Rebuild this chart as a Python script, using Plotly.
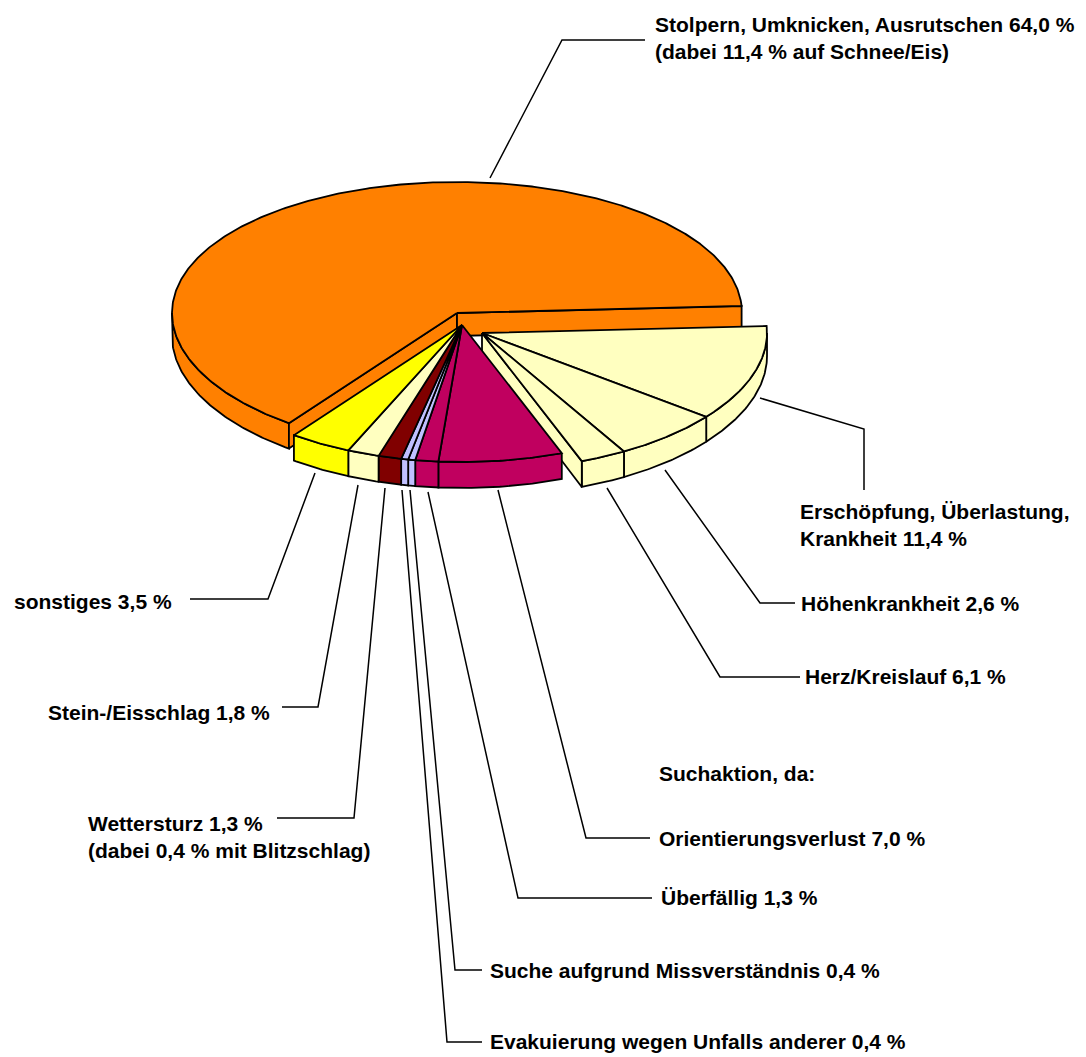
import numpy as np
import plotly.graph_objects as go

# ---------------- data (clockwise order, starting just above 3 o'clock) -------------
categories = [
    "Erschöpfung, Überlastung, Krankheit",
    "Herz/Kreislauf",
    "Höhenkrankheit",
    "Orientierungsverlust",
    "Überfällig",
    "Suche aufgrund Missverständnis",
    "Evakuierung wegen Unfalls anderer",
    "Wettersturz",
    "Stein-/Eisschlag",
    "sonstiges",
    "Stolpern, Umknicken, Ausrutschen",
]
values = [11.4, 6.1, 2.6, 7.0, 1.3, 0.4, 0.4, 1.3, 1.8, 3.5, 64.0]

label_texts = [
    "Stolpern, Umknicken, Ausrutschen 64,0 %<br>(dabei 11,4 % auf Schnee/Eis)",
    "Erschöpfung, Überlastung,<br>Krankheit 11,4 %",
    "Höhenkrankheit 2,6 %",
    "Herz/Kreislauf 6,1 %",
    "Suchaktion, da:",
    "Orientierungsverlust 7,0 %",
    "Überfällig 1,3 %",
    "Suche aufgrund Missverständnis 0,4 %",
    "Evakuierung wegen Unfalls anderer 0,4 %",
    "Wettersturz 1,3 %<br>(dabei 0,4 % mit Blitzschlag)",
    "Stein-/Eisschlag 1,8 %",
    "sonstiges 3,5 %",
]

# ---------------- styles ----------------
colors = ["#FFFFC0", "#FFFFC0", "#FFFFC0", "#C0005F", "#C0005F", "#C0C0FF",
          "#C0C0FF", "#800000", "#FFFFC0", "#FFFF00", "#FF8000"]
# explosion offsets (pixels) per slice
offsets = [(20, 8)] * 3 + [(0, 0)] * 7 + [(-5, -12)]
draw_order = [10, 0, 1, 2, 3, 4, 5, 6, 7, 8, 9]

CX, CY = 462.0, 325.0
RX, RA, RB = 285.0, 134.0, 3.0
START = -3.0


def depth(s):
    return 23.0 + 3.0 * s


def rim(phi_deg, ox, oy, bottom=False):
    p = np.radians(phi_deg)
    c, s = np.cos(p), np.sin(p)
    x = CX + ox + RX * c
    y = CY + oy + RA * s + RB * s * s
    if bottom:
        y = y + depth(s)
    return x, y


def apex(ox, oy, bottom=False):
    return CX + ox, CY + oy + (depth(0) if bottom else 0)


total = sum(values)
spans = [v / total * 360.0 for v in values]
bounds = []
a = START
for sp in spans:
    bounds.append((a, a + sp))
    a += sp

fig = go.Figure()
LW = 1.8


def add_poly(xs, ys, color, name):
    fig.add_trace(go.Scatter(
        x=list(xs) + [xs[0]], y=list(ys) + [ys[0]], mode="lines", fill="toself",
        fillcolor=color, line=dict(color="black", width=LW),
        name=name, hoverinfo="name", showlegend=False))


for i in draw_order:
    a0, a1 = bounds[i]
    ox, oy = offsets[i]
    col = colors[i]
    name = f"{categories[i]} {values[i]:.1f} %".replace(".", ",")
    n = len(values)
    prev_off = offsets[(i - 1) % n]
    next_off = offsets[(i + 1) % n]

    # outer side wall (front half: 0..180 degrees in screen-angle terms)
    for k in (-360, 0, 360):
        lo, hi = max(a0, k + 0.0), min(a1, k + 180.0)
        if hi > lo:
            ph = np.linspace(lo, hi, max(3, int((hi - lo) * 2)))
            tx, ty = rim(ph, ox, oy)
            bx, by = rim(ph, ox, oy, bottom=True)
            add_poly(np.concatenate([tx, bx[::-1]]), np.concatenate([ty, by[::-1]]), col, name)

    # radial walls at group borders when they face the viewer
    ax_t, ay_t = apex(ox, oy)
    ax_b, ay_b = apex(ox, oy, bottom=True)
    if prev_off != (ox, oy) and np.cos(np.radians(a0)) < 0:
        ex, ey = rim(a0, ox, oy)
        fx, fy = rim(a0, ox, oy, bottom=True)
        add_poly([ax_t, ex, fx, ax_b], [ay_t, ey, fy, ay_b], col, name)
    if next_off != (ox, oy) and np.cos(np.radians(a1)) > 0:
        ex, ey = rim(a1, ox, oy)
        fx, fy = rim(a1, ox, oy, bottom=True)
        add_poly([ax_t, ex, fx, ax_b], [ay_t, ey, fy, ay_b], col, name)

    # top face
    ph = np.linspace(a0, a1, max(3, int((a1 - a0) * 2)))
    tx, ty = rim(ph, ox, oy)
    add_poly(np.concatenate([[ax_t], tx]), np.concatenate([[ay_t], ty]), col, name)

# ---------------- leader lines (layout) ----------------
leaders = [
    [(490, 178), (562, 40), (645, 40)],
    [(760, 398), (864, 429), (864, 490)],
    [(665, 470), (760, 603), (795, 603)],
    [(607, 488), (720, 677), (800, 677)],
    [(498, 490), (586, 838), (650, 838)],
    [(428, 492), (518, 898), (652, 898)],
    [(410, 490), (455, 970), (482, 970)],
    [(402, 490), (447, 1042), (482, 1042)],
    [(385, 488), (354, 818), (277, 818)],
    [(358, 485), (318, 707), (282, 707)],
    [(315, 473), (268, 599), (190, 599)],
]
for pts in leaders:
    path = "M " + " L ".join(f"{x},{y}" for x, y in pts)
    fig.add_shape(type="path", path=path, xref="x", yref="y",
                  line=dict(color="black", width=1.5))

label_pos = [
    (653, 38), (798, 525), (799, 603), (803, 676), (657, 773), (657, 838),
    (659, 897), (488, 970), (488, 1041), (86, 837), (46, 712), (12, 601),
]
for txt, (x, y) in zip(label_texts, label_pos):
    fig.add_annotation(x=x, y=y, xref="x", yref="y", text=txt, showarrow=False,
                       xanchor="left", yanchor="middle", align="left",
                       font=dict(family="Liberation Sans, Arial, sans-serif",
                                 size=21, color="black", weight="bold"))

# the page body has an 8px margin: size the figure so the drawing lands where
# the reference has it
PAGE_OFF = 8
fig.update_layout(
    width=1086 - PAGE_OFF, height=1057 - PAGE_OFF,
    margin=dict(l=0, r=0, t=0, b=0),
    paper_bgcolor="white", plot_bgcolor="white",
    xaxis=dict(range=[PAGE_OFF, 1086], visible=False, fixedrange=True),
    yaxis=dict(range=[1057, PAGE_OFF], visible=False, fixedrange=True),
    showlegend=False,
)

fig.write_html("out.html")
